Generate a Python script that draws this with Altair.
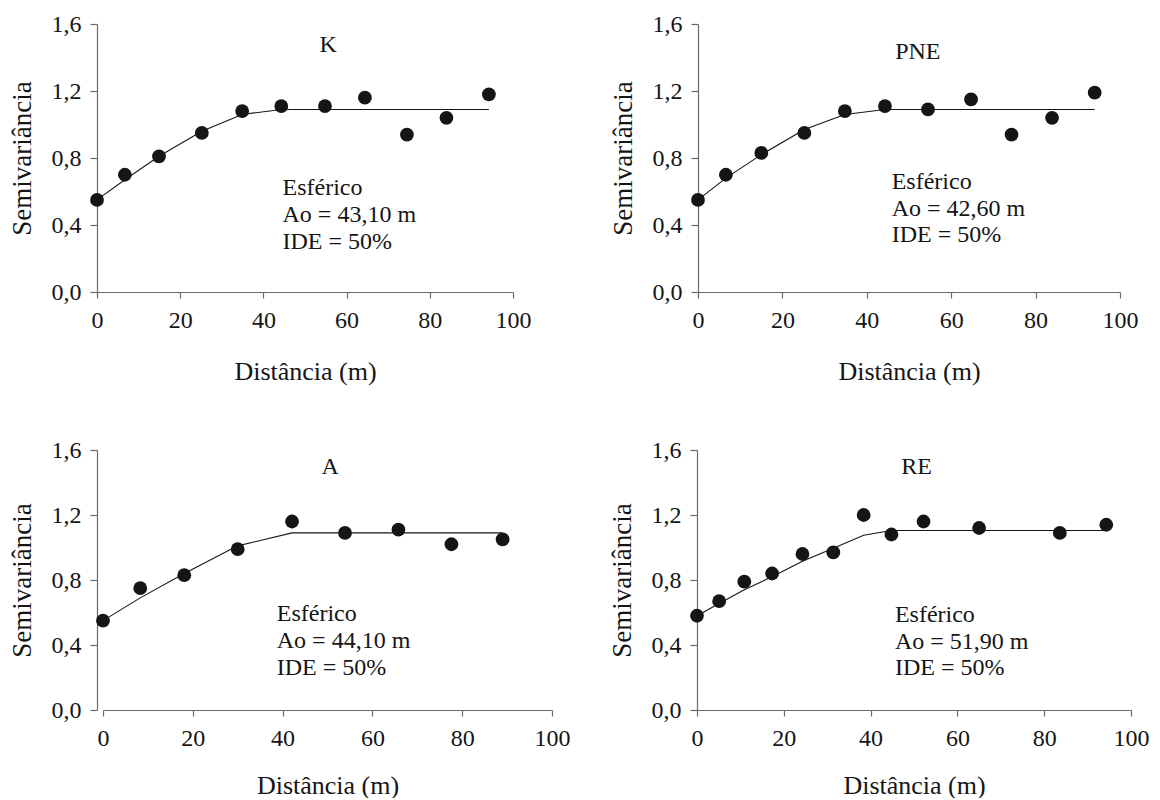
import altair as alt
import pandas as pd

# ---------------- data ----------------
# K
k_dist = [0.0, 6.7, 14.9, 25.2, 34.9, 44.3, 54.8, 64.4, 74.5, 84.0, 94.2]
k_semi = [0.55, 0.70, 0.81, 0.95, 1.08, 1.11, 1.11, 1.16, 0.94, 1.04, 1.18]
k_model = [0.55, 0.67, 0.81, 0.96, 1.06, 1.09, 1.09, 1.09, 1.09, 1.09, 1.09]
k_notes = ["Esférico", "Ao = 43,10 m", "IDE = 50%"]

# PNE
p_dist = [0.0, 6.6, 15.0, 25.2, 34.8, 44.3, 54.5, 64.7, 74.3, 83.9, 94.0]
p_semi = [0.55, 0.70, 0.83, 0.95, 1.08, 1.11, 1.09, 1.15, 0.94, 1.04, 1.19]
p_model = [0.55, 0.68, 0.82, 0.97, 1.06, 1.09, 1.09, 1.09, 1.09, 1.09, 1.09]
p_notes = ["Esférico", "Ao = 42,60 m", "IDE = 50%"]

# A
a_dist = [0.0, 8.3, 18.1, 30.0, 42.1, 53.9, 65.8, 77.6, 89.0]
a_semi = [0.55, 0.75, 0.83, 0.99, 1.16, 1.09, 1.11, 1.02, 1.05]
a_model = [0.55, 0.69, 0.84, 1.01, 1.09, 1.09, 1.09, 1.09, 1.09]
a_notes = ["Esférico", "Ao = 44,10 m", "IDE = 50%"]

# RE
r_dist = [0.0, 5.1, 10.9, 17.3, 24.3, 31.4, 38.4, 44.8, 52.2, 65.0, 83.6, 94.3]
r_semi = [0.58, 0.67, 0.79, 0.84, 0.96, 0.97, 1.20, 1.08, 1.16, 1.12, 1.09, 1.14]
r_model = [0.58, 0.655, 0.74, 0.82, 0.915, 0.995, 1.075, 1.105, 1.105, 1.105, 1.105, 1.105]
r_notes = ["Esférico", "Ao = 51,90 m", "IDE = 50%"]

x_ticks = [0, 20, 40, 60, 80, 100]
y_ticks = [0.0, 0.4, 0.8, 1.2, 1.6]

# ---------------- layout / style ----------------
FONT = "Liberation Serif"
INK = "#151515"
AXIS_GREY = "#6a6a6a"

# annotation anchor positions (data units) and panel sizes (px)
layout = {
    "K":   dict(name_xy=(55.6, 1.474), note_x=44.6, note_y=[0.618, 0.458, 0.299], w=416, h=268, x0=0),
    "PNE": dict(name_xy=(52.1, 1.435), note_x=45.9, note_y=[0.657, 0.498, 0.339], w=422, h=268, x0=0),
    "A":   dict(name_xy=(50.6, 1.493), note_x=38.7, note_y=[0.589, 0.425, 0.261], w=455, h=260, x0=6),
    "RE":  dict(name_xy=(50.6, 1.497), note_x=45.6, note_y=[0.585, 0.421, 0.256], w=434, h=260, x0=0),
}


def panel(name, dist, semi, model, notes, x_title_pad=26):
    L = layout[name]
    xscale = alt.Scale(domain=[0, 100], nice=False, zero=False, range=[L["x0"], L["w"]])
    yscale = alt.Scale(domain=[0, 1.6], nice=False, zero=False)
    xaxis = alt.Axis(values=x_ticks, title="Distância (m)", grid=False,
                     tickSize=6, labelPadding=10, titlePadding=x_title_pad,
                     labelFlush=False, labelOverlap=False, labelBound=False)
    yaxis = alt.Axis(values=y_ticks, title="Semivariância", grid=False,
                     labelExpr="replace(format(datum.value, '.1f'), '.', ',')",
                     tickSize=7, labelPadding=9, titlePadding=15, titleFontSize=27,
                     labelFlush=False, labelOverlap=False, labelBound=False)

    pts = pd.DataFrame({"d": dist, "s": semi})
    mdl = pd.DataFrame({"d": dist, "s": model})
    nm = pd.DataFrame({"d": [L["name_xy"][0]], "s": [L["name_xy"][1]], "t": [name]})
    nt = pd.DataFrame({"d": [L["note_x"]] * len(notes), "s": L["note_y"], "t": notes})

    line = alt.Chart(mdl).mark_line(color=INK, strokeWidth=1.1).encode(
        x=alt.X("d:Q", scale=xscale, axis=xaxis),
        y=alt.Y("s:Q", scale=yscale, axis=yaxis),
    )
    dots = alt.Chart(pts).mark_circle(size=190, color=INK, opacity=1).encode(
        x=alt.X("d:Q", scale=xscale), y=alt.Y("s:Q", scale=yscale)
    )
    name_txt = alt.Chart(nm).mark_text(font=FONT, fontSize=24, color=INK,
                                       align="center", baseline="middle").encode(
        x=alt.X("d:Q", scale=xscale), y=alt.Y("s:Q", scale=yscale), text="t:N"
    )
    note_txt = alt.Chart(nt).mark_text(font=FONT, fontSize=24, color=INK,
                                       align="left", baseline="middle").encode(
        x=alt.X("d:Q", scale=xscale), y=alt.Y("s:Q", scale=yscale), text="t:N"
    )
    return alt.layer(line, dots, name_txt, note_txt).properties(width=L["w"], height=L["h"])


p1 = panel("K", k_dist, k_semi, k_model, k_notes)
p2 = panel("PNE", p_dist, p_semi, p_model, p_notes)
p3 = panel("A", a_dist, a_semi, a_model, a_notes, x_title_pad=22)
p4 = panel("RE", r_dist, r_semi, r_model, r_notes, x_title_pad=22)

row1 = alt.hconcat(p1, p2, spacing=185, bounds="flush")
row2 = alt.hconcat(p3, p4, spacing=145, bounds="flush")

chart = alt.vconcat(row1, row2, spacing=54).properties(
    padding={"left": 8, "top": 12, "right": 0, "bottom": 0},
    background="white",
).configure_view(stroke=None).configure_axis(
    domainColor=AXIS_GREY, tickColor=AXIS_GREY, domainWidth=1.2, tickWidth=1.2,
    labelFont=FONT, labelFontSize=24, labelColor=INK,
    titleFont=FONT, titleFontSize=26, titleFontWeight="normal", titleColor=INK,
)

chart.save("out.html", embed_options={"renderer": "svg", "actions": False})
